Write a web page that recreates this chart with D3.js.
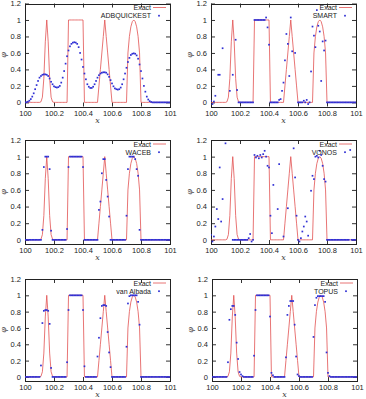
<!DOCTYPE html>
<html>
<head>
<meta charset="utf-8">
<script src="https://cdn.jsdelivr.net/npm/d3@7"></script>
<style>
  body { margin: 0; background: #fff; }
  svg { display: block; font-family: "Liberation Sans", Arial, sans-serif; }
</style>
</head>
<body>
<div id="chart"></div>
<script>
// grid: x = 100.00 ... 101.00, step 0.01
const xTicks = [100, 100.2, 100.4, 100.6, 100.8, 101];
const xTickLabels = ['100', '100.2', '100.4', '100.6', '100.8', '101'];
const yTicks = [0, 0.2, 0.4, 0.6, 0.8, 1, 1.2];
const yTickLabels = ['0', '0.2', '0.4', '0.6', '0.8', '1', '1.2'];

const schemeNames = ['ADBQUICKEST', 'SMART', 'WACEB', 'VONOS', 'van Albada', 'TOPUS'];

const exact = [
  0, 0, 0, 0, 0, 0, 0, 0, 0, 0,
  0, 0.007, 0.063, 0.292, 0.735, 1, 0.735, 0.292, 0.063, 0.007,
  0, 0, 0, 0, 0, 0, 0, 0, 0, 0,
  1, 1, 1, 1, 1, 1, 1, 1, 1, 1,
  1, 0, 0, 0, 0, 0, 0, 0, 0, 0,
  0, 0.2, 0.4, 0.6, 0.8, 1, 0.8, 0.6, 0.4, 0.2,
  0, 0, 0, 0, 0, 0, 0, 0, 0, 0,
  0, 0.6, 0.8, 0.917, 0.98, 1, 0.98, 0.917, 0.8, 0.6,
  0, 0, 0, 0, 0, 0, 0, 0, 0, 0,
  0, 0, 0, 0, 0, 0, 0, 0, 0, 0,
  0
];

const adbquickest = [
  0, 0.002, 0.008, 0.02, 0.04, 0.07, 0.11, 0.16, 0.21, 0.26,
  0.30, 0.32, 0.335, 0.34, 0.34, 0.335, 0.32, 0.29, 0.25, 0.22,
  0.195, 0.185, 0.18, 0.185, 0.2, 0.24, 0.3, 0.38, 0.47, 0.56,
  0.63, 0.68, 0.71, 0.725, 0.73, 0.725, 0.71, 0.67, 0.6, 0.52,
  0.43, 0.35, 0.28, 0.22, 0.19, 0.175, 0.175, 0.19, 0.22, 0.26,
  0.3, 0.33, 0.35, 0.36, 0.365, 0.365, 0.36, 0.34, 0.31, 0.27,
  0.23, 0.195, 0.17, 0.16, 0.155, 0.16, 0.18, 0.22, 0.28, 0.35,
  0.42, 0.49, 0.54, 0.575, 0.59, 0.595, 0.59, 0.57, 0.53, 0.46,
  0.38, 0.29, 0.2, 0.13, 0.07, 0.035, 0.015, 0.005, 0, 0,
  0, 0, 0, 0, 0, 0, 0, 0, 0, 0,
  0
];

// null = no point visible in the plot
const smart = [
  0.02, -0.02, 0.01, 0.08, null, 0.335, 0.335, null, 0.657, null,
  null, null, null, 0.14, null, 0.335, null, 0.76, 0.15, 0,
  0, 0, 0, 0, 0, 0, 0, 0, 0, 0,
  1, 1, 1, 1, 1, 1, 1, 1, 1.03, 0.91,
  0.7, 0, 0, 0, 0, 0, 0, 0.03, 0.04, 0.14,
  0.24, 0.51, 0.83, 0.71, 0.32, 1.03, 0.62, null, 0.6, null,
  0, 0, 0, 0, 0.02, 0, 0.03, -0.02, 0, 0.375,
  0.92, 0.81, 0.67, 1.12, 0.93, 0.86, 0.26, 0.74, 0.63, 0.75,
  0, 0, 0, 0, 0, 0, 0, 0, 0, 0,
  0, 0, 0, 0, 0, 0, 0, 0, 0, 0,
  0
];

const waceb = [
  0, 0, 0, 0, 0, 0, 0, 0, 0, 0,
  0, 0, 0.12, 0.875, 1, 1, 1, 0.85, 0.11, 0,
  0, 0, 0, 0, 0, 0, 0, 0, 0, 0.13,
  0.875, 1, 1, 1, 1, 1, 1, 1, 1, 1,
  0.875, 0, 0, 0, 0, 0, 0, 0, 0, 0,
  0, 0.36, 0.46, 0.8, 0.97, 0.97, 0.72, 0.52, 0.28, 0,
  0, 0, 0, 0, 0, 0, 0, 0, 0, 0,
  0.29, 0.85, 1, 1, 1, 1, 0.97, 0.85, 0.77, 0.12,
  0, 0, 0, 0, 0, 0, 0, 0, 0, 0,
  0, 0, 0, 0, 0, 0, 0, 0, 0, 0,
  0
];

const vonos = [
  0.06, -0.02, 0.04, 0.16, 0.37, 0.25, 0.87, 0.22, 0.49, null,
  1.16, null, null, null, null, 0, 0, 0, 0, 0,
  0, 0, 0, 0, 0, 0, 0.02, 0.07, -0.02, 0,
  1.02, 0.99, 1.01, 0.98, 1.02, 0.99, 1.03, 1.07, 1.0, 0.89,
  0.87, 0.29, 0.08, 0.66, null, null, 0.37, 0.91, null, null,
  0.04, null, null, 0.38, null, null, null, 1.1, 0.75, 0.29,
  0, -0.02, 0.02, 0.1, 0.16, 0.28, 0.22, 0.05, null, 0.59,
  0.77, 0.73, 1.0, 1.01, 0.99, 1.07, 1.02, 0.89, 0.73, 0.7,
  0, 0, 0, 0, 0, 0, 0, 0, 0, 0,
  0, 0, 0, 0, 0, 0, 1.08, 0, 0, 0,
  0
];

const vanAlbada = [
  0, 0, 0, 0, 0, 0, 0, 0, 0, 0,
  0, 0.14, 0.66, 0.81, 0.82, 0.82, 0.81, 0.65, 0.11, 0,
  0, 0, 0, 0, 0, 0, 0, 0, 0, 0.18,
  0.82, 1, 1, 1, 1, 1, 1, 1, 1, 1,
  0.82, 0.13, 0, 0, 0, 0, 0, 0, 0, 0,
  0.25, 0.48, 0.72, 0.87, 0.88, 0.88, 0.87, 0.55, 0.3, 0.12,
  0, 0, 0, 0, 0, 0, 0, 0, 0, 0,
  0.37, 0.9, 0.99, 1, 1, 1, 1, 1, 0.92, 0.64,
  0, 0, 0, 0, 0, 0, 0, 0, 0, 0,
  0, 0, 0, 0, 0, 0, 0, 0, 0, 0,
  0
];

const topus = [
  0, 0, 0, 0, 0, 0, 0, 0, 0, 0,
  0, 0.18, 0.7, 0.83, 0.87, 0.87, 0.76, 0.42, 0.22, 0.06,
  0.03, 0.01, 0, 0, 0, 0, 0, 0, 0, 0.26,
  0.82, 1, 1, 1, 1, 1, 1, 1, 1, 1,
  0.74, 0.05, 0.02, 0, 0, 0, 0, 0, 0, 0,
  0, 0.24, 0.76, 0.87, 0.93, 0.93, 0.93, 0.64, 0.25, 0.03,
  0.01, 0, 0, 0, 0, 0, 0, 0, 0, 0,
  0.49, 0.88, 0.97, 0.99, 0.99, 0.99, 0.99, 0.99, 0.92, 0.3,
  0.05, 0.01, 0, 0, 0, 0, 0, 0, 0, 0,
  0, 0, 0, 0, 0, 0, 0, 0, 0, 0,
  0
];

const schemeData = [adbquickest, smart, waceb, vonos, vanAlbada, topus];
const xGrid = d3.range(exact.length).map(i => 100 + i * 0.01);

// panel boxes in pixels
const panels = [
  {left: 25, right: 170, top: 3.5, bottom: 106.5},
  {left: 211, right: 356, top: 3.5, bottom: 106.5},
  {left: 25, right: 170, top: 140, bottom: 244},
  {left: 211, right: 356, top: 140, bottom: 244},
  {left: 25, right: 170, top: 279, bottom: 381},
  {left: 212, right: 357, top: 279, bottom: 381}
];

const red = '#e25252', blue = '#3030d4';
const dot = 1.7;

const svg = d3.select('#chart')
  .append('svg')
  .attr('width', 366)
  .attr('height', 399);

panels.forEach((p, k) => {
  const x = d3.scaleLinear().domain([100, 101]).range([p.left, p.right]);
  const y = d3.scaleLinear().domain([-0.05, 1.2]).range([p.bottom, p.top]);
  const g = svg.append('g');

  g.append('clipPath').attr('id', 'clip' + k)
    .append('rect')
      .attr('x', p.left).attr('y', p.top)
      .attr('width', p.right - p.left).attr('height', p.bottom - p.top);

  // axes, gnuplot style: inward ticks on all four sides
  const axes = [
    [d3.axisBottom(x).tickValues(xTicks).tickFormat((d, i) => xTickLabels[i]), `translate(0,${p.bottom})`],
    [d3.axisTop(x).tickValues(xTicks).tickFormat(''), `translate(0,${p.top})`],
    [d3.axisLeft(y).tickValues(yTicks).tickFormat((d, i) => yTickLabels[i]), `translate(${p.left},0)`],
    [d3.axisRight(y).tickValues(yTicks).tickFormat(''), `translate(${p.right},0)`]
  ];
  axes.forEach(([axis, tr]) => {
    const a = g.append('g')
      .attr('transform', tr)
      .call(axis.tickSize(-4).tickPadding(4));
    a.select('.domain').remove();
    a.selectAll('line').attr('stroke', '#333');
    a.selectAll('text')
      .attr('fill', '#222')
      .style('font-size', '7.5px')
      .style('font-family', '"Liberation Sans", Arial, sans-serif');
  });

  g.append('rect')
    .attr('x', Math.round(p.left) + 0.5).attr('y', Math.round(p.top) + 0.5)
    .attr('width', p.right - p.left).attr('height', Math.round(p.bottom) - Math.round(p.top))
    .attr('fill', 'none')
    .attr('stroke', '#222')
    .attr('stroke-width', 1);

  const plot = g.append('g').attr('clip-path', `url(#clip${k})`);

  plot.append('path')
    .datum(exact)
      .attr('fill', 'none')
      .attr('stroke', red)
      .attr('stroke-width', 0.8)
      .attr('d', d3.line()
        .x((d, i) => x(xGrid[i]))
        .y(d => y(d))
      );

  const pts = schemeData[k]
    .map((v, i) => ({x: xGrid[i], v: v}))
    .filter(d => d.v !== null);

  plot.selectAll('rect.pt')
    .data(pts)
    .enter().append('rect')
      .attr('class', 'pt')
      .attr('x', d => x(d.x) - dot / 2)
      .attr('y', d => y(d.v) - dot / 2)
      .attr('width', dot)
      .attr('height', dot)
      .attr('fill', blue);

  // legend
  const lx = p.right - 19;
  g.append('text')
    .attr('x', lx).attr('y', p.top + 6.5)
    .attr('text-anchor', 'end')
    .style('font-size', '7px')
    .attr('fill', '#222')
    .text('Exact');
  g.append('line')
    .attr('x1', lx + 2).attr('x2', p.right - 4)
    .attr('y1', p.top + 4).attr('y2', p.top + 4)
    .attr('stroke', red)
    .attr('stroke-width', 0.8);
  g.append('text')
    .attr('x', lx).attr('y', p.top + 14.5)
    .attr('text-anchor', 'end')
    .style('font-size', '7px')
    .attr('fill', '#222')
    .text(schemeNames[k]);
  g.append('rect')
    .attr('x', p.right - 11 - dot / 2).attr('y', p.top + 12.2 - dot / 2)
    .attr('width', dot).attr('height', dot)
    .attr('fill', blue);

  // axis titles
  g.append('text')
    .attr('x', (p.left + p.right) / 2)
    .attr('y', p.bottom + 16)
    .attr('text-anchor', 'middle')
    .style('font-family', '"DejaVu Serif", serif')
    .style('font-style', 'italic')
    .style('font-size', '8px')
    .attr('fill', '#444')
    .text('x');
  g.append('text')
    .attr('transform', `translate(${p.left - 21},${(p.top + p.bottom) / 2}) rotate(-90)`)
    .attr('text-anchor', 'middle')
    .attr('dominant-baseline', 'middle')
    .style('font-family', '"DejaVu Serif", serif')
    .style('font-style', 'italic')
    .style('font-size', '8px')
    .attr('fill', '#444')
    .text('φ');
});
</script>
</body>
</html>
